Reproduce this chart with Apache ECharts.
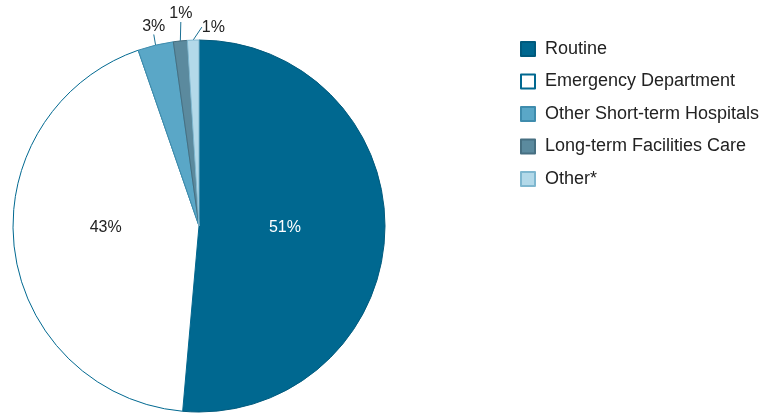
<!DOCTYPE html>
<html><head><meta charset="utf-8">
<script src="https://cdn.jsdelivr.net/npm/echarts@6/dist/echarts.min.js"></script>
<style>html,body{margin:0;padding:0;background:#fff}#c{width:767px;height:415px}</style>
</head><body><div id="c"></div>
<script>
var categories = ['Routine','Emergency Department','Other Short-term Hospitals','Long-term Facilities Care','Other*'];
var values = [51.4, 43.3, 3.1, 1.2, 1.0];
var fills = ['#006890','#ffffff','#5aa7c7','#5b8a9e','#b3d9e9'];
var borders = ['#005a7d','#006890','#3f8cad','#466f81','#7fb7cf'];
var labelColors = ['#ffffff','#222222','#222222','#222222','#222222'];
var insideFlags = [true, true, false, false, false];
var lineLens = [0, 0, 12, 15, 9];

var data = categories.map(function(n,i){
  return {
    name:n, value:values[i],
    itemStyle:{color:fills[i], borderColor:borders[i], borderWidth:1},
    label:{position: insideFlags[i] ? 'inside' : 'outside', color:labelColors[i]},
    labelLine:{show: !insideFlags[i], length: lineLens[i], length2:0}
  };
});
var chart = echarts.init(document.getElementById('c'), null, {renderer:'canvas'});
chart.setOption({
  animation:false,
  legend:{
    orient:'vertical', left:515, top:35,
    itemWidth:14, itemHeight:14, itemGap:14.5,
    icon:'rect',
    textStyle:{fontFamily:'Liberation Sans, Arial, sans-serif', fontSize:18, color:'#222', padding:[0,0,0,5]},
    data:categories
  },
  series:[{
    type:'pie', center:[199,226], radius:186, startAngle:90, clockwise:true,
    avoidLabelOverlap:false,
    label:{formatter:function(p){return Math.round(p.value)+'%';}, fontFamily:'Liberation Sans, Arial, sans-serif', fontSize:16, color:'#222'},
    labelLine:{lineStyle:{color:'#1a6f93', width:1}},
    labelLayout:function(p){
      var i = p.dataIndex;
      if (i === 0) return {dx:-10, dy:-3};
      if (i === 1) return {dx:2, dy:-10};
      var pts = p.labelLinePoints;
      if (!pts) return {};
      var e = pts[pts.length-1];
      if (i === 2) return {x:e[0]+1, y:e[1]+1, align:'center', verticalAlign:'bottom'};
      if (i === 3) return {x:e[0]+2, y:e[1]-4, align:'center', verticalAlign:'bottom'};
      return {x:e[0]+9, y:e[1]+4, align:'left', verticalAlign:'bottom'};
    },
    data:data
  }]
});
</script></body></html>
